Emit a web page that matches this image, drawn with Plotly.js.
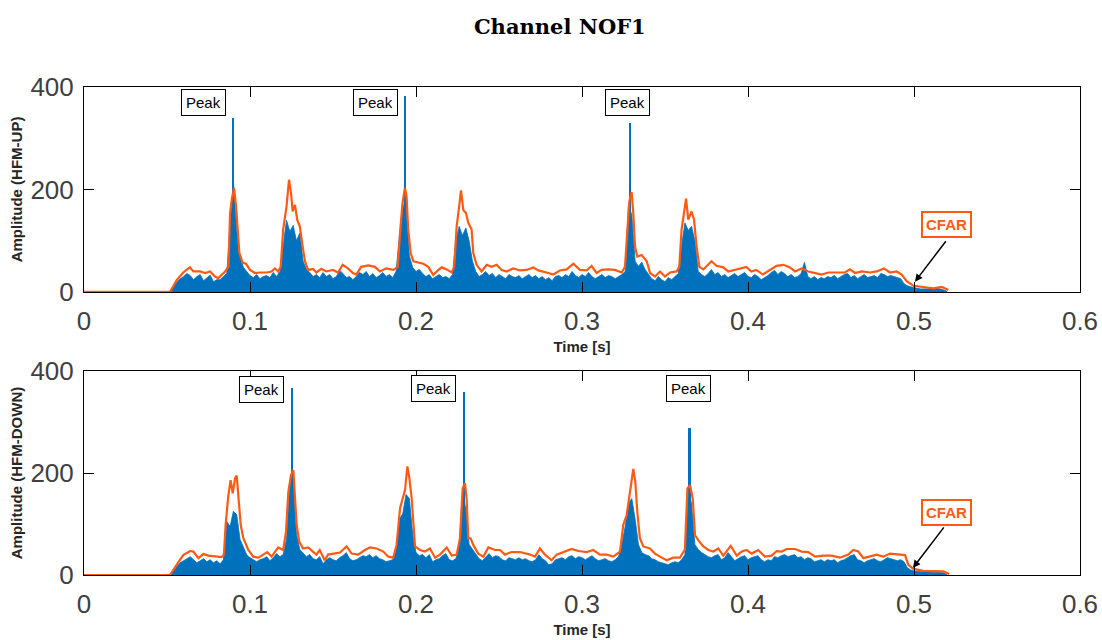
<!DOCTYPE html>
<html>
<head>
<meta charset="utf-8">
<script src="https://cdn.plot.ly/plotly-3.0.1.min.js"></script>
<style>html,body{margin:0;padding:0;background:#fff;}#chart{width:1102px;height:640px;}</style>
</head>
<body>
<div id="chart"></div>
<script>
// ---------- data ----------
// matched-filter amplitude, sampled every 2 ms starting at 0.05 s
const ampStart = 0.05;
const ampStep = 0.002;
const ampUp = [
  0,2,12,20,26,30,36,32,24,30,
  34,22,28,33,20,24,24,30,36,130,
  215,120,70,48,40,32,28,34,26,30,
  32,28,38,30,40,90,140,118,130,100,
  115,60,45,38,30,34,28,38,30,34,
  26,30,42,36,28,30,24,30,38,34,
  40,30,36,28,32,38,30,34,28,40,
  110,160,190,70,48,40,44,36,30,34,
  26,30,34,28,30,26,34,100,128,110,
  125,100,60,40,30,34,40,32,36,28,
  34,30,26,34,30,28,32,26,30,34,
  28,32,26,30,24,28,22,30,32,28,
  34,30,40,32,28,34,30,38,30,26,
  30,34,28,32,30,26,30,34,40,170,
  150,60,50,58,44,34,26,22,30,24,
  20,28,24,30,36,90,135,120,128,100,
  40,34,30,36,44,34,38,30,34,28,
  32,36,30,34,38,30,28,34,30,24,
  28,32,38,42,34,40,36,30,34,28,
  30,36,58,30,26,30,24,28,26,30,
  28,32,26,30,34,36,28,32,26,30,
  34,28,30,32,28,36,34,30,32,30,
  28,26,16,12,10,8,7,6,6,5,
  6,6,7,6,4,1
];
const ampDown = [
  0,2,10,18,24,28,32,36,30,24,
  28,32,26,30,24,28,22,30,105,95,
  125,118,70,55,40,34,30,26,30,32,
  36,28,34,42,36,40,70,180,195,80,
  50,42,36,40,32,30,36,22,30,34,
  30,28,34,38,44,32,28,30,34,38,
  36,40,34,38,32,30,26,28,30,50,
  110,120,158,150,80,44,38,40,34,40,
  26,30,32,38,42,30,28,32,60,160,
  130,60,50,40,32,28,36,42,34,38,
  36,30,28,34,32,30,34,30,32,28,
  26,30,40,32,28,20,22,30,32,34,
  30,36,38,32,36,34,30,34,38,32,
  28,30,32,28,26,30,36,60,95,140,
  150,110,60,44,40,38,32,30,26,24,
  22,20,24,26,24,30,40,165,140,60,
  50,44,40,36,34,38,40,30,34,44,
  36,28,32,36,38,30,34,36,38,30,
  26,30,28,36,34,38,40,36,38,40,
  34,36,30,34,32,26,28,30,26,30,
  28,30,24,28,30,34,38,40,30,28,
  24,28,30,32,28,26,30,34,32,30,
  28,30,26,14,10,8,7,6,6,6,
  6,6,6,5,4,1
];
// the three tallest single-sample peaks
const peakTimeUp = [0.0896, 0.1934, 0.3289];
const peakAmpUp = [340, 382, 330];
const peakTimeDown = [0.1255, 0.2291, 0.3648];
const peakAmpDown = [367, 359, 288];

// CFAR threshold
const cfarTimeUp = [
  0,0.0518,0.0558,0.0598,0.0638,0.0659,0.0699,0.073,0.076,0.0789,
  0.0809,0.085,0.087,0.088,0.089,0.0904,0.0916,0.0924,0.0936,0.0956,
  0.0976,0.100,0.103,0.106,0.110,0.113,0.115,0.117,0.1185,0.120,
  0.122,0.1235,0.1247,0.1257,0.1271,0.1285,0.130,0.1317,0.1331,0.135,
  0.138,0.140,0.143,0.146,0.150,0.153,0.1558,0.159,0.162,0.164,
  0.167,0.1713,0.1753,0.1783,0.182,0.1863,0.189,0.1907,0.1919,0.1933,
  0.1943,0.1953,0.1968,0.1984,0.2014,0.2044,0.2074,0.2104,0.2135,0.2155,
  0.2185,0.2215,0.223,0.2245,0.226,0.2271,0.2285,0.2301,0.2315,0.2335,
  0.2345,0.2365,0.2395,0.2426,0.2456,0.2486,0.2516,0.2546,0.2586,0.2626,
  0.2667,0.2707,0.2737,0.2767,0.2797,0.2827,0.2867,0.2908,0.2948,0.2988,
  0.3028,0.3058,0.3088,0.3118,0.3158,0.3199,0.3239,0.3259,0.3273,0.3285,
  0.3299,0.3309,0.3319,0.3333,0.336,0.339,0.341,0.344,0.347,0.350,
  0.353,0.357,0.3586,0.360,0.3627,0.364,0.366,0.3675,0.369,0.3707,
  0.3731,0.378,0.381,0.3851,0.3881,0.392,0.396,0.399,0.402,0.405,
  0.409,0.413,0.4172,0.4213,0.4253,0.4283,0.4323,0.4363,0.4404,0.4444,
  0.4484,0.4534,0.4584,0.4614,0.4645,0.4685,0.4735,0.4775,0.482,0.4855,
  0.4895,0.4926,0.4956,0.4996,0.5056,0.5117,0.5167,0.5207
];
const cfarUp = [
  0,0,23,38,48,40,40,37,40,30,
  27,40,49,154,180,203,167,122,76,57,
  55,43,37,38,38,40,46,40,49,122,
  167,219,193,157,170,140,128,89,60,43,
  45,38,45,40,43,38,53,46,37,34,
  49,52,49,40,46,43,49,128,174,203,
  187,122,76,60,57,55,49,33,43,48,
  44,38,49,128,167,198,160,154,135,122,
  76,53,40,53,49,53,43,40,46,42,
  43,48,42,40,37,34,42,44,55,43,
  42,51,37,43,44,43,38,49,128,177,
  195,154,89,69,72,60,37,30,40,30,
  38,40,49,122,182,141,157,141,89,49,
  44,60,51,48,40,43,46,49,40,43,
  34,42,51,53,48,40,46,40,37,34,
  38,38,38,44,37,40,38,40,46,38,
  40,34,21,12,9,7,10,4
];
const cfarTimeDown = [
  0,0.0518,0.0558,0.0598,0.0638,0.0659,0.0689,0.0719,0.0749,0.0789,
  0.0829,0.0843,0.0853,0.0869,0.0883,0.0896,0.091,0.092,0.0932,0.0944,
  0.096,0.099,0.102,0.105,0.108,0.1104,0.113,0.115,0.117,0.120,
  0.1217,0.1231,0.1247,0.1261,0.1271,0.1281,0.1297,0.132,0.135,0.138,
  0.140,0.142,0.145,0.147,0.150,0.1542,0.1582,0.1612,0.1652,0.1692,
  0.1723,0.1763,0.1803,0.1833,0.1863,0.1883,0.1904,0.192,0.1934,0.1948,
  0.196,0.1974,0.1984,0.1994,0.2024,0.2054,0.2084,0.2115,0.2145,0.2185,
  0.2215,0.2245,0.2265,0.2281,0.2295,0.2305,0.2315,0.2329,0.2345,0.2375,
  0.2406,0.2436,0.2476,0.2506,0.2536,0.2576,0.2626,0.2687,0.2717,0.2747,
  0.2777,0.2817,0.2847,0.2888,0.2938,0.2978,0.3028,0.3068,0.3108,0.3148,
  0.3189,0.3229,0.3249,0.3269,0.3285,0.3309,0.3321,0.3333,0.3349,0.3369,
  0.3409,0.344,0.347,0.351,0.355,0.359,0.362,0.3635,0.3651,0.3667,
  0.3681,0.3701,0.3731,0.3761,0.3791,0.3821,0.3851,0.3896,0.3932,0.3962,
  0.3992,0.4022,0.4062,0.4102,0.4142,0.4173,0.4203,0.4233,0.4283,0.4323,
  0.4363,0.4404,0.4454,0.4504,0.4554,0.4604,0.4634,0.4665,0.4695,0.4735,
  0.4775,0.4815,0.4855,0.4916,0.4946,0.4966,0.4996,0.5056,0.5137,0.5177,0.5213
];
const cfarDown = [
  0,0,20,39,47,46,33,41,38,36,
  35,40,98,154,186,160,190,195,150,98,
  72,49,36,34,40,45,36,46,54,49,
  85,163,196,206,150,98,65,52,54,46,
  40,49,29,40,42,44,56,42,40,49,
  54,52,46,36,34,59,131,150,167,213,
  190,150,98,56,49,46,52,34,40,54,
  38,40,72,170,180,150,72,72,59,42,
  36,54,49,49,40,45,45,40,36,52,
  40,29,40,45,51,47,45,49,40,40,
  36,46,99,117,150,208,183,124,72,56,
  52,42,36,29,34,34,50,170,176,150,
  78,68,56,49,46,52,38,57,38,46,
  49,42,49,36,38,47,46,51,51,46,
  45,36,38,38,34,40,49,46,33,36,
  40,36,42,40,39,20,12,8,8,7,2
];
const xTicks = [0, 0.1, 0.2, 0.3, 0.4, 0.5, 0.6];
const yTicks = [0, 200, 400];
const peakLabelUp = [[0.0717, 370], [0.1753, 370], [0.3277, 370]];
const peakLabelDown = [[0.1072, 363], [0.2108, 365], [0.3639, 365]];

// ---------- styling ----------
const BLUE = '#0072BD';
const ORANGE = '#FF5A14';
const tickFont = {family: 'Liberation Sans, Arial, sans-serif', size: 26, color: '#404040'};
const titleFont = {family: 'Liberation Sans, Arial, sans-serif', size: 15, color: '#262626'};

function ampTrace(vals, xa, ya) {
  return {type: 'scatter', mode: 'lines', x0: ampStart, dx: ampStep, y: vals,
    fill: 'tozeroy', fillcolor: BLUE, line: {color: BLUE, width: 0.8},
    xaxis: xa, yaxis: ya, hoverinfo: 'skip', showlegend: false};
}
function spikeTrace(t, v, xa, ya) {
  return {type: 'bar', x: t, y: v, width: 0.0014, marker: {color: BLUE, line: {width: 0}},
    xaxis: xa, yaxis: ya, hoverinfo: 'skip', showlegend: false};
}
function cfarTrace(t, v, xa, ya) {
  return {type: 'scatter', mode: 'lines', x: t, y: v, line: {color: ORANGE, width: 2.2},
    xaxis: xa, yaxis: ya, hoverinfo: 'skip', showlegend: false};
}

const data = [
  spikeTrace(peakTimeUp, peakAmpUp, 'x', 'y'),
  ampTrace(ampUp, 'x', 'y'),
  cfarTrace(cfarTimeUp, cfarUp, 'x', 'y'),
  spikeTrace(peakTimeDown, peakAmpDown, 'x2', 'y2'),
  ampTrace(ampDown, 'x2', 'y2'),
  cfarTrace(cfarTimeDown, cfarDown, 'x2', 'y2')
];

function xAxis(anchor) {
  return {anchor: anchor, domain: [0, 1], range: [0, 0.6], tickvals: xTicks,
    ticks: 'inside', ticklen: 10, tickwidth: 1, tickcolor: '#000',
    showline: true, linecolor: '#000', linewidth: 1, mirror: 'ticks',
    showgrid: false, zeroline: false, tickfont: tickFont, ticklabelstandoff: 6,
    title: {text: '<b>Time [s]</b>', font: titleFont, standoff: 6}, automargin: false};
}
function yAxis(anchor, dom, label) {
  return {anchor: anchor, domain: dom, range: [0, 400], tickvals: yTicks,
    ticks: 'inside', ticklen: 10, tickwidth: 1, tickcolor: '#000',
    showline: true, linecolor: '#000', linewidth: 1, mirror: 'ticks',
    showgrid: false, zeroline: false, tickfont: tickFont, ticklabelstandoff: 4,
    title: {text: '<b>' + label + '</b>', font: titleFont, standoff: 4}, automargin: false};
}

const annotations = [];
function addPeaks(list, xr, yr) {
  list.forEach(function (p) {
    annotations.push({xref: xr, yref: yr, x: p[0], y: p[1], text: 'Peak', showarrow: false,
      font: {family: 'Liberation Sans, Arial, sans-serif', size: 15, color: '#000'},
      bgcolor: '#fff', bordercolor: '#000', borderwidth: 1, borderpad: 4});
  });
}
addPeaks(peakLabelUp, 'x', 'y');
addPeaks(peakLabelDown, 'x2', 'y2');
function addCfar(xr, yr, boxY, tipX, tipY) {
  annotations.push({xref: xr, yref: yr, x: 0.5193, y: boxY, text: '<b>CFAR</b>', showarrow: false,
    font: {family: 'Liberation Sans, Arial, sans-serif', size: 15, color: ORANGE},
    bgcolor: '#fff', bordercolor: ORANGE, borderwidth: 2, borderpad: 3});
  annotations.push({xref: xr, yref: yr, x: tipX, y: tipY, text: '', showarrow: true,
    ax: 32, ay: -42, arrowhead: 2, arrowsize: 1, arrowwidth: 1.5, arrowcolor: '#000'});
}
addCfar('x', 'y', 131, 0.5006, 20);
addCfar('x2', 'y2', 123, 0.4994, 14);

const layout = {
  width: 1102, height: 640,
  margin: {l: 84, r: 22, t: 87, b: 65},
  paper_bgcolor: '#fff', plot_bgcolor: '#fff',
  title: {text: '<b>Channel NOF1</b>', xref: 'container', x: 0.508, xanchor: 'center',
    yref: 'container', y: 0.959, yanchor: 'middle',
    font: {family: 'DejaVu Serif, serif', size: 21, color: '#000'}},
  xaxis: xAxis('y'),
  yaxis: yAxis('x', [0.58, 1], 'Amplitude (HFM-UP)'),
  xaxis2: xAxis('y2'),
  yaxis2: yAxis('x2', [0, 0.418], 'Amplitude (HFM-DOWN)'),
  bargap: 0,
  showlegend: false,
  annotations: annotations
};

Plotly.newPlot('chart', data, layout, {displayModeBar: false, staticPlot: true});
</script>
</body>
</html>
